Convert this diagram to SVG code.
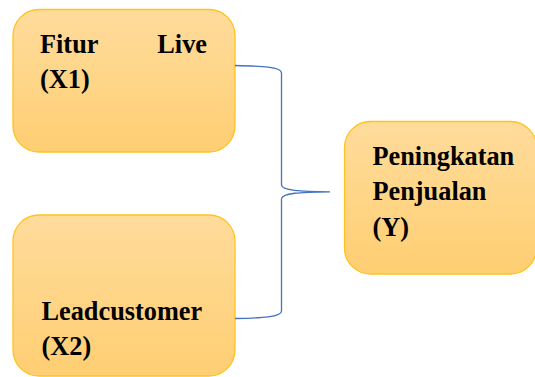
<svg xmlns="http://www.w3.org/2000/svg" width="535" height="377" viewBox="0 0 535 377">
  <defs>
    <linearGradient id="boxFill" x1="0" y1="0" x2="0" y2="1">
      <stop offset="0" stop-color="#FFDC9C"/>
      <stop offset="1" stop-color="#FECE72"/>
    </linearGradient>
    <style>
      .box { fill: url(#boxFill); stroke: #FFC21E; stroke-width: 1.3; }
      .label { font-family: 'Liberation Serif', 'DejaVu Serif', serif; font-weight: 700; font-size: 26.3px; fill: #000; }
      .brace { fill: none; stroke: #4472C4; stroke-width: 1.3; }
    </style>
  </defs>

  <rect width="535" height="377" fill="#FFFFFF"/>

  <g id="node-x1">
    <rect class="box" x="13" y="9.5" width="222" height="142.5" rx="26" ry="26"/>
    <text class="label" font-family="Liberation Serif, serif" x="40" y="52.5">Fitur</text>
    <text class="label" font-family="Liberation Serif, serif" x="207" y="52.5" text-anchor="end">Live</text>
    <text class="label" font-family="Liberation Serif, serif" x="40" y="88">(X1)</text>
  </g>

  <g id="node-x2">
    <rect class="box" x="13" y="215" width="222" height="161" rx="26" ry="26"/>
    <text class="label" font-family="Liberation Serif, serif" x="41.5" y="320">Leadcustomer</text>
    <text class="label" font-family="Liberation Serif, serif" x="41.5" y="355">(X2)</text>
  </g>

  <g id="node-y">
    <rect class="box" x="344.5" y="121.5" width="192" height="152.5" rx="26" ry="26"/>
    <text class="label" font-family="Liberation Serif, serif" x="372.5" y="164.5">Peningkatan</text>
    <text class="label" font-family="Liberation Serif, serif" x="372.5" y="200">Penjualan</text>
    <text class="label" font-family="Liberation Serif, serif" x="372.5" y="236">(Y)</text>
  </g>

  <g id="connectors">
    <!-- right curly brace joining both inputs to the outcome -->
    <path class="brace" d="M235,65.5 C262,66 281.5,67 281.5,73 L281.5,185 C281.5,190.5 300,191.5 330,191.8 C300,192.1 281.5,193 281.5,199 L281.5,311 C281.5,317 262,318 235,318.5"/>
  </g>
</svg>
